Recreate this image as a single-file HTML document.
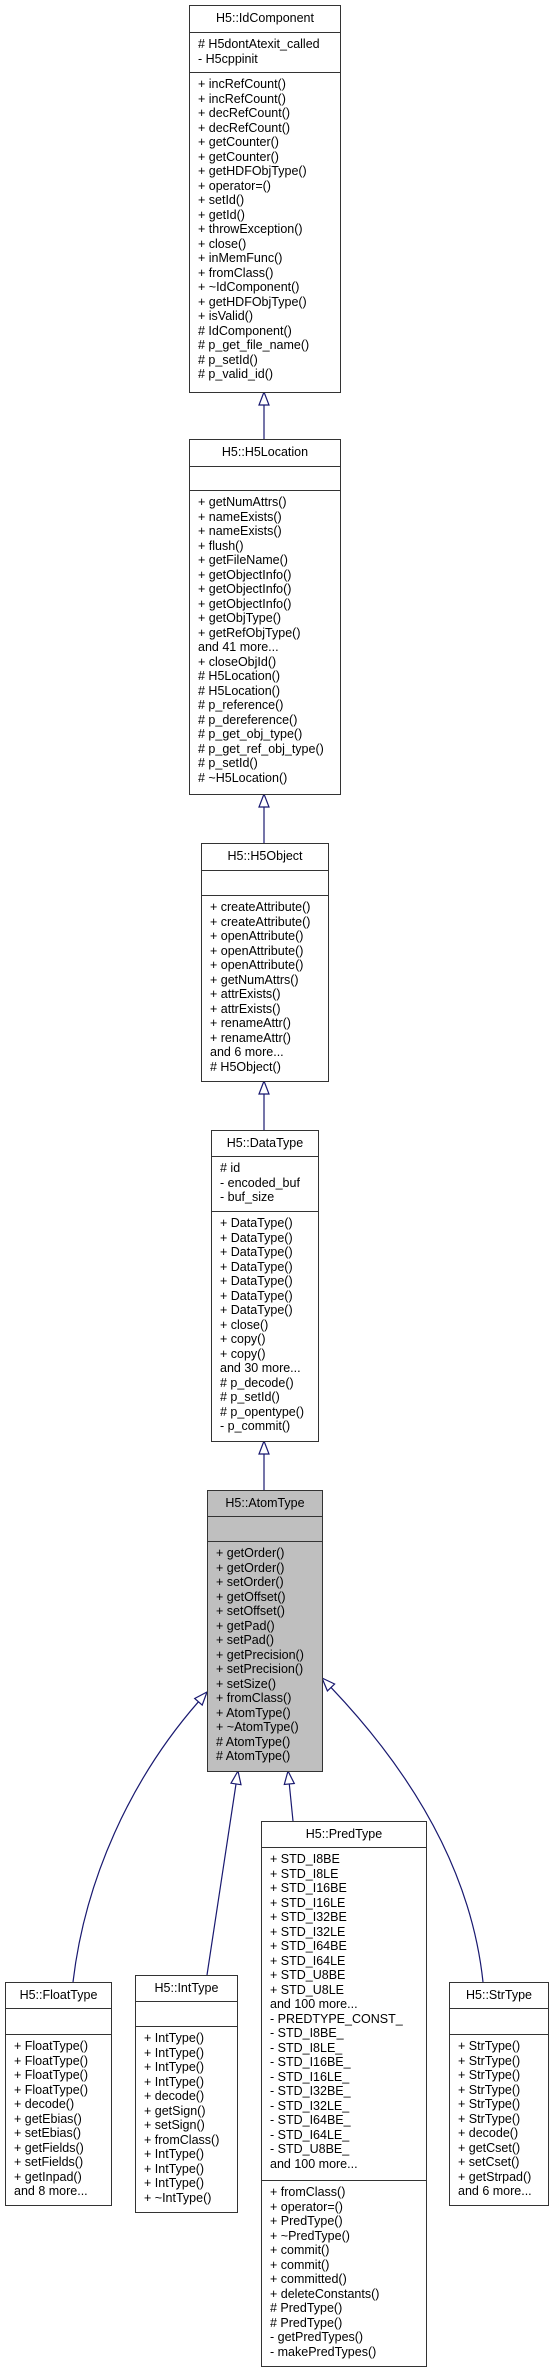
<!DOCTYPE html>
<html><head><meta charset="utf-8"><style>
body{margin:0;width:554px;height:2372px;background:#fff;position:relative;overflow:hidden;font-family:"Liberation Sans",Arial,sans-serif;font-size:12.5px;color:#000}
.b{position:absolute;border:1px solid #333;background:#fff;box-sizing:border-box}
.g{background:#bfbfbf}
.s{position:absolute;left:0;right:0;border-top:1px solid #333;box-sizing:border-box;padding:4px 0 0 8px;line-height:14.5px;white-space:pre}
.h{position:absolute;left:0;right:0;top:0;text-align:center;line-height:24px}
svg{position:absolute;left:0;top:0}
</style></head><body>
<svg width="554" height="2372">
<g stroke="#191970" stroke-width="1.2" fill="none">
<line x1="264" y1="405" x2="264" y2="439"/>
<line x1="264" y1="807" x2="264" y2="843"/>
<line x1="264" y1="1094" x2="264" y2="1130"/>
<line x1="264" y1="1454" x2="264" y2="1490"/>
<path d="M198.4,1701.8 C130,1780 85,1880 73,1982"/>
<path d="M331,1687.4 C400,1760 470,1860 483,1982"/>
<line x1="236" y1="1784" x2="207" y2="1975"/>
<line x1="289.3" y1="1784" x2="293" y2="1821"/>
</g>
<g stroke="#191970" stroke-width="1.2" fill="#fff">
<polygon points="264,392 259,405 269,405"/>
<polygon points="264,794 259,807 269,807"/>
<polygon points="264,1081 259,1094 269,1094"/>
<polygon points="264,1441 259,1454 269,1454"/>
<polygon points="207,1692 202.2,1705.1 194.7,1698.5"/>
<polygon points="322,1678 334.6,1684 327.4,1690.9"/>
<polygon points="238,1771 241,1784.7 231,1783.2"/>
<polygon points="288,1771 294.3,1783.5 284.3,1784.5"/>
</g>
</svg>

<div class="b" style="left:189px;top:5px;width:152px;height:388px">
<div class="h">H5::IdComponent</div>
<div class="s" style="top:26px;height:40px"># H5dontAtexit_called
- H5cppinit</div>
<div class="s" style="top:66px;bottom:0">+ incRefCount()
+ incRefCount()
+ decRefCount()
+ decRefCount()
+ getCounter()
+ getCounter()
+ getHDFObjType()
+ operator=()
+ setId()
+ getId()
+ throwException()
+ close()
+ inMemFunc()
+ fromClass()
+ ~IdComponent()
+ getHDFObjType()
+ isValid()
# IdComponent()
# p_get_file_name()
# p_setId()
# p_valid_id()</div>
</div>

<div class="b" style="left:189px;top:439px;width:152px;height:356px">
<div class="h">H5::H5Location</div>
<div class="s" style="top:26px;height:24px"></div>
<div class="s" style="top:50px;bottom:0">+ getNumAttrs()
+ nameExists()
+ nameExists()
+ flush()
+ getFileName()
+ getObjectInfo()
+ getObjectInfo()
+ getObjectInfo()
+ getObjType()
+ getRefObjType()
and 41 more...
+ closeObjId()
# H5Location()
# H5Location()
# p_reference()
# p_dereference()
# p_get_obj_type()
# p_get_ref_obj_type()
# p_setId()
# ~H5Location()</div>
</div>

<div class="b" style="left:201px;top:843px;width:128px;height:239px">
<div class="h">H5::H5Object</div>
<div class="s" style="top:26px;height:25px"></div>
<div class="s" style="top:51px;bottom:0">+ createAttribute()
+ createAttribute()
+ openAttribute()
+ openAttribute()
+ openAttribute()
+ getNumAttrs()
+ attrExists()
+ attrExists()
+ renameAttr()
+ renameAttr()
and 6 more...
# H5Object()</div>
</div>

<div class="b" style="left:211px;top:1130px;width:108px;height:312px">
<div class="h">H5::DataType</div>
<div class="s" style="top:25px;height:55px"># id
- encoded_buf
- buf_size</div>
<div class="s" style="top:80px;bottom:0">+ DataType()
+ DataType()
+ DataType()
+ DataType()
+ DataType()
+ DataType()
+ DataType()
+ close()
+ copy()
+ copy()
and 30 more...
# p_decode()
# p_setId()
# p_opentype()
- p_commit()</div>
</div>

<div class="b g" style="left:207px;top:1490px;width:116px;height:282px">
<div class="h">H5::AtomType</div>
<div class="s" style="top:25px;height:25px"></div>
<div class="s" style="top:50px;bottom:0">+ getOrder()
+ getOrder()
+ setOrder()
+ getOffset()
+ setOffset()
+ getPad()
+ setPad()
+ getPrecision()
+ setPrecision()
+ setSize()
+ fromClass()
+ AtomType()
+ ~AtomType()
# AtomType()
# AtomType()</div>
</div>

<div class="b" style="left:5px;top:1982px;width:107px;height:224px">
<div class="h">H5::FloatType</div>
<div class="s" style="top:25px;height:26px"></div>
<div class="s" style="top:51px;bottom:0">+ FloatType()
+ FloatType()
+ FloatType()
+ FloatType()
+ decode()
+ getEbias()
+ setEbias()
+ getFields()
+ setFields()
+ getInpad()
and 8 more...</div>
</div>

<div class="b" style="left:135px;top:1975px;width:103px;height:238px">
<div class="h">H5::IntType</div>
<div class="s" style="top:25px;height:25px"></div>
<div class="s" style="top:50px;bottom:0">+ IntType()
+ IntType()
+ IntType()
+ IntType()
+ decode()
+ getSign()
+ setSign()
+ fromClass()
+ IntType()
+ IntType()
+ IntType()
+ ~IntType()</div>
</div>

<div class="b" style="left:261px;top:1821px;width:166px;height:546px">
<div class="h">H5::PredType</div>
<div class="s" style="top:25px;height:333px">+ STD_I8BE
+ STD_I8LE
+ STD_I16BE
+ STD_I16LE
+ STD_I32BE
+ STD_I32LE
+ STD_I64BE
+ STD_I64LE
+ STD_U8BE
+ STD_U8LE
and 100 more...
- PREDTYPE_CONST_
- STD_I8BE_
- STD_I8LE_
- STD_I16BE_
- STD_I16LE_
- STD_I32BE_
- STD_I32LE_
- STD_I64BE_
- STD_I64LE_
- STD_U8BE_
and 100 more...</div>
<div class="s" style="top:358px;bottom:0">+ fromClass()
+ operator=()
+ PredType()
+ ~PredType()
+ commit()
+ commit()
+ committed()
+ deleteConstants()
# PredType()
# PredType()
- getPredTypes()
- makePredTypes()</div>
</div>

<div class="b" style="left:449px;top:1982px;width:100px;height:224px">
<div class="h">H5::StrType</div>
<div class="s" style="top:25px;height:26px"></div>
<div class="s" style="top:51px;bottom:0">+ StrType()
+ StrType()
+ StrType()
+ StrType()
+ StrType()
+ StrType()
+ decode()
+ getCset()
+ setCset()
+ getStrpad()
and 6 more...</div>
</div>
</body></html>
